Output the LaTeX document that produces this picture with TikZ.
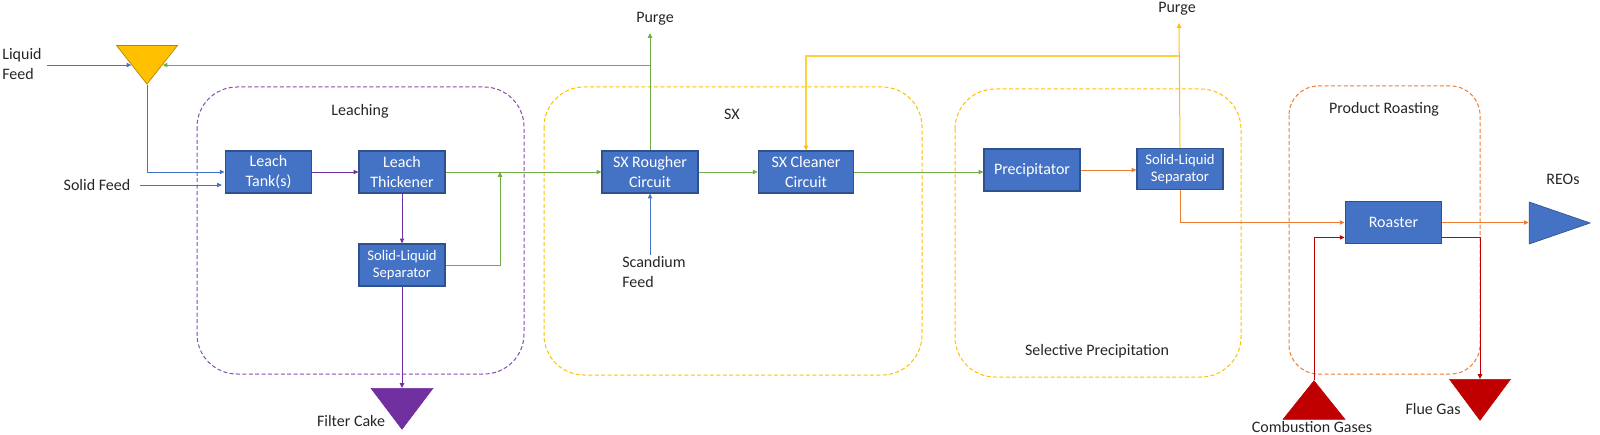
\documentclass[tikz,border=0pt]{standalone}
\usepackage{fontspec}
\setmainfont{Carlito}
\usetikzlibrary{positioning,arrows.meta,shapes.geometric}
\definecolor{boxblue}{HTML}{4472C4}
\definecolor{boxedge}{HTML}{2F528F}
\definecolor{msgreen}{HTML}{70AD47}
\definecolor{msyellow}{HTML}{FFC000}
\definecolor{msorange}{HTML}{ED7D31}
\definecolor{mspurple}{HTML}{7030A0}
\definecolor{msred}{HTML}{C00000}

\begin{document}
\begin{tikzpicture}[
  x=0.75pt, y=-0.75pt,
  font=\fontsize{12}{14.4}\selectfont,
  unit/.style={draw=boxedge, fill=boxblue, text=white, line width=0.9pt,
               align=center, inner sep=1pt, minimum width=65pt, minimum height=31.5pt},
  smallunit/.style={unit, font=\fontsize{11}{12.9}\selectfont},
  area/.style={draw=#1, dash pattern=on 3pt off 1.8pt, line width=0.75pt,
               rounded corners=30pt},
  lab/.style={text=black!85, align=left, inner sep=1pt},
  flow/.style={draw=#1, line width=0.75pt, -{Triangle[length=3.6pt,width=3.2pt]}},
  tri/.style={isosceles triangle, isosceles triangle stretches, inner sep=0pt,
              fill=#1, draw=#1},
]
\useasboundingbox (0,0) rectangle (1600,435);

% --- process areas ---
\draw[area=mspurple!85] (197,87) rectangle (524,374);
\draw[area=msyellow] (544,87) rectangle (922,375);
\draw[area=msyellow] (955,89) rectangle (1241,377);
\draw[area=msorange, rounded corners=22pt] (1289,86) rectangle (1480,374);
\node[lab] (tleach) at (360,111) {Leaching};
\node[lab] (tsx) at (732,114) {SX};
\node[lab] (tsel) at (1097,351) {Selective Precipitation};
\node[lab] (troast) at (1384,109) {Product Roasting};

% --- units ---
\node[unit, minimum width=65pt] (tank) at (268.5,172) {Leach\\Tank(s)};
\node[unit, minimum width=64.5pt] (thick) at (402,172) {Leach\\Thickener};
\node[smallunit, minimum width=64.5pt] (sep1) at (402,265) {Solid-Liquid\\Separator};
\node[unit, minimum width=72pt] (rough) at (650,172) {SX Rougher\\Circuit};
\node[unit, minimum width=71.5pt] (clean) at (806,172) {SX Cleaner\\Circuit};
\node[unit, minimum width=72pt] (precip) at (1032,170) {Precipitator};
\node[smallunit, minimum width=64.5pt, minimum height=30.5pt] (sep2) at (1180,169) {Solid-Liquid\\Separator};
\node[unit, minimum width=72.5pt] (roast) at (1393.5,222.5) {Roaster};

% --- feeds and products ---
\node[tri=msyellow, draw=msyellow!70!black, line width=0.5pt, shape border rotate=270,
      minimum width=45.75pt, minimum height=29pt, anchor=apex] (mix) at (147,85) {};
\node[tri=mspurple, shape border rotate=270, minimum width=46.5pt, minimum height=30.75pt,
      anchor=apex] (cake) at (402,430) {};
\node[tri=msred, shape border rotate=90, minimum width=46.5pt, minimum height=29pt,
      anchor=apex] (comb) at (1314,380) {};
\node[tri=msred, shape border rotate=270, minimum width=45.75pt, minimum height=30.75pt,
      anchor=apex] (flue) at (1480,421) {};
\node[tri=boxblue, draw=boxedge, line width=0.5pt, minimum width=31.5pt,
      minimum height=45.75pt, anchor=apex] (reo) at (1591,223) {};

\node[lab] (liq) at (22,64) {Liquid\\Feed};
\node[lab] (solid) at (97,185) {Solid Feed};
\node[lab] (scf) at (654,272) {Scandium\\Feed};
\node[lab] (purge1) at (655,19) {Purge};
\node[lab] (purge2) at (1177,9) {Purge};
\node[lab] (lcake) at (351,421) {Filter Cake};
\node[lab] (lcomb) at (1312,427) {Combustion Gases};
\node[lab] (lflue) at (1433,409) {Flue Gas};
\node[lab] (lreo) at (1563,179) {REOs};

\coordinate (j1) at (500,172);
\coordinate (p1) at (650,33);
\coordinate (p2) at (1179,23);
\coordinate (sc) at (650,255);
\coordinate (y2) at (1179,56);

% --- leaching ---
\draw[flow=boxblue] ([xshift=3pt]liq.east |- mix.right side) -- (mix.right side);
\draw[flow=boxblue] (mix.apex) |- (tank.west);
\draw[flow=boxblue] ([xshift=6pt]solid.east) -- ([xshift=-2pt]solid.east -| tank.west);
\draw[flow=mspurple] (tank.east) -- (thick.west);
\draw[flow=mspurple] (thick.south) -- (sep1.north);
\draw[flow=mspurple] (sep1.south) -- (cake.lower side);
\draw[flow=msgreen] (sep1.east) -| (j1);

% --- SX ---
\draw[flow=msgreen] (thick.east) -- (rough.west);
\draw[flow=msgreen] (rough.north) -- (p1);
\draw[flow=msgreen] (rough.north |- mix.left side) -- (mix.left side);
\draw[flow=boxblue] (sc) -- (rough.south);
\draw[flow=msgreen] (rough.east) -- (clean.west);
\draw[flow=msgreen] (clean.east) -- (clean.east -| precip.west);

% --- selective precipitation ---
\draw[flow=msorange] (precip.east) -- (precip.east -| sep2.west);
\draw[flow=msyellow] (sep2.north) -- (p2);
\draw[draw=msyellow!75, line width=1.5pt] (y2) -| ([yshift=3pt]clean.north);
\draw[flow=msyellow] ([yshift=4pt]clean.north) -- (clean.north);
\draw[flow=msorange] (sep2.south) |- (roast.west);

% --- roasting ---
\draw[flow=msorange] (roast.east) -- (roast.east -| reo.lower side);
\draw[flow=msred] (comb.apex) |- ([yshift=5pt]roast.south west);
\draw[flow=msred] ([yshift=5pt]roast.south east) -| (flue.lower side);
\end{tikzpicture}
\end{document}
